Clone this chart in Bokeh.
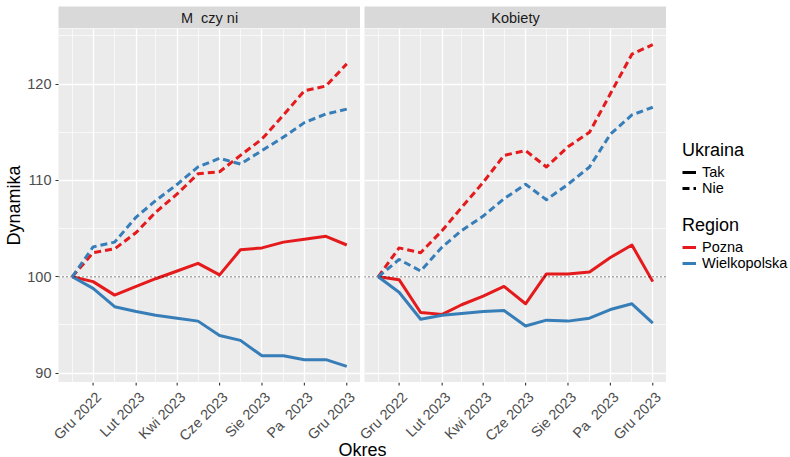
from math import pi
import pandas as pd
from bokeh.plotting import figure
from bokeh.layouts import column, row
from bokeh.models import Range1d, FixedTicker, Span, Legend, LegendItem, ColumnDataSource
from bokeh.embed import file_html
from bokeh.resources import INLINE
from bokeh.core.properties import value

# ---------------- data ----------------
okres = ["2022-11-01", "2022-12-01", "2023-01-01", "2023-02-01", "2023-03-01",
         "2023-04-01", "2023-05-01", "2023-06-01", "2023-07-01", "2023-08-01",
         "2023-09-01", "2023-10-01", "2023-11-01", "2023-12-01"]
tick_dates = ["2022-12-01", "2023-02-01", "2023-04-01", "2023-06-01",
              "2023-08-01", "2023-10-01", "2023-12-01"]
tick_labels = ["Gru 2022", "Lut 2023", "Kwi 2023", "Cze 2023",
               "Sie 2023", "Pa\u00a0 2023", "Gru 2023"]
minor_dates = ["2022-11-01", "2023-01-01", "2023-03-01", "2023-05-01",
               "2023-07-01", "2023-09-01", "2023-11-01"]
y_ticks = [90, 100, 110, 120]
y_minor = [95, 105, 115, 125]
panels = ["M\u00a0\u00a0czy\u00a0ni", "Kobiety"]
regions = ["Pozna", "Wielkopolska"]
ukraina = ["Tak", "Nie"]
x_title = "Okres"
y_title = "Dynamika"

# Mężczyźni
m_poznan_tak = [100, 99.5, 98.1, 99.0, 99.8, 100.6, 101.4, 100.2, 102.8, 103.0, 103.6, 103.9, 104.2, 103.3]
m_wlkp_tak = [100, 98.8, 96.9, 96.4, 96.0, 95.7, 95.4, 93.9, 93.4, 91.8, 91.8, 91.4, 91.4, 90.7]
m_poznan_nie = [100, 102.5, 102.9, 104.6, 106.7, 108.6, 110.7, 110.9, 112.6, 114.3, 116.8, 119.3, 119.8, 122.1]
m_wlkp_nie = [100, 103.1, 103.6, 106.2, 107.9, 109.6, 111.4, 112.3, 111.7, 113.1, 114.5, 116.0, 116.9, 117.4]
# Kobiety
k_poznan_tak = [100, 99.7, 96.3, 96.1, 97.1, 98.0, 99.0, 97.2, 100.3, 100.3, 100.5, 102.0, 103.3, 99.5]
k_wlkp_tak = [100, 98.4, 95.6, 96.0, 96.2, 96.4, 96.5, 94.9, 95.5, 95.4, 95.7, 96.6, 97.2, 95.2]
k_poznan_nie = [100, 103.0, 102.5, 104.8, 107.2, 109.8, 112.6, 113.1, 111.4, 113.5, 115.0, 119.0, 123.1, 124.1]
k_wlkp_nie = [100, 101.8, 100.6, 103.1, 104.8, 106.3, 108.1, 109.6, 108.0, 109.6, 111.4, 114.8, 116.8, 117.6]

series = {
    0: [(0, 0, m_poznan_tak), (1, 0, m_wlkp_tak), (0, 1, m_poznan_nie), (1, 1, m_wlkp_nie)],
    1: [(0, 0, k_poznan_tak), (1, 0, k_wlkp_tak), (0, 1, k_poznan_nie), (1, 1, k_wlkp_nie)],
}

# ---------------- style ----------------
FONT = "Liberation Sans"
FONT_V = value(FONT)
colors = ["#E41A1C", "#377EB8"]
dashes = ["solid", "7 4"]
PANEL_BG = "#EBEBEB"
STRIP_BG = "#D9D9D9"
FRAME_W = 302
FRAME_H = 354
LEFT = 58
GAP = 4
STRIP_TOP = 6
STRIP_H = 22
BOTTOM_H = 74
LEG_W = 124

dates = pd.to_datetime(okres)
to_ms = lambda s: int(pd.Timestamp(s).value // 10**6)
ms = [to_ms(d) for d in okres]
span = ms[-1] - ms[0]
x0, x1 = ms[0] - 0.05 * span, ms[-1] + 0.05 * span
tick_ms = [to_ms(d) for d in tick_dates]
minor_ms = [to_ms(d) for d in minor_dates]

all_vals = [v for lst in series.values() for (_, _, s) in lst for v in s]
lo, hi = min(all_vals), max(all_vals)
yr = Range1d(lo - 0.05 * (hi - lo), hi + 0.05 * (hi - lo))


def strip(i):
    p = figure(frame_width=FRAME_W, frame_height=STRIP_H, x_range=Range1d(0, 1), y_range=Range1d(0, 1),
               x_axis_location=None, y_axis_location=None, output_backend="svg",
               toolbar_location=None, min_border_left=LEFT if i == 0 else GAP,
               min_border_right=0, min_border_top=STRIP_TOP, min_border_bottom=0,
               background_fill_color=STRIP_BG, border_fill_color="white", outline_line_color=None)
    p.grid.visible = False
    p.text(x=[0.5], y=[0.5], text=[panels[i]], text_align="center", text_baseline="middle",
           text_font=FONT_V, text_font_size="14.5px", text_color="#1A1A1A")
    return p


def panel(i):
    p = figure(frame_width=FRAME_W, frame_height=FRAME_H, x_axis_type="datetime",
               x_range=Range1d(x0, x1), y_range=yr,
               x_axis_location=None,
               y_axis_location="left" if i == 0 else None,
               output_backend="svg", toolbar_location=None,
               min_border_left=LEFT if i == 0 else GAP, min_border_right=0,
               min_border_top=0, min_border_bottom=0,
               background_fill_color=PANEL_BG, border_fill_color="white", outline_line_color=None)
    xt = FixedTicker(ticks=tick_ms, minor_ticks=minor_ms)
    yt = FixedTicker(ticks=y_ticks, minor_ticks=y_minor)
    p.xgrid.ticker = xt
    p.ygrid.ticker = yt
    for g in (p.xgrid, p.ygrid):
        g.grid_line_color = "white"
        g.grid_line_width = 1.3
        g.minor_grid_line_color = "white"
        g.minor_grid_line_width = 0.65
    if i == 0:
        ay = p.yaxis[0]
        ay.ticker = yt
        ay.axis_line_color = None
        ay.major_tick_line_color = "#333333"
        ay.major_tick_in = 0
        ay.major_tick_out = 3
        ay.minor_tick_line_color = None
        ay.major_label_text_font = FONT
        ay.major_label_text_font_size = "14.5px"
        ay.major_label_text_color = "#4D4D4D"
        ay.major_label_standoff = 3
        ay.axis_label = y_title
        ay.axis_label_text_font = FONT
        ay.axis_label_text_font_size = "18px"
        ay.axis_label_text_font_style = "normal"
        ay.axis_label_text_color = "black"
        ay.axis_label_standoff = 0
    for (r, u, vals) in series[i]:
        src = ColumnDataSource(dict(x=dates, y=vals))
        p.line("x", "y", source=src, line_color=colors[r], line_width=3,
               line_dash=dashes[u], line_join="round")
    p.add_layout(Span(location=100, dimension="width", line_color="black",
                      line_width=1, line_dash="1 3"))
    return p


def bottom_fig():
    # one strip under both panels: ticks + rotated labels on each panel's own date scale,
    # then the shared x-axis title centred under the two panels
    total = LEFT + 2 * FRAME_W + GAP
    k = (x1 - x0) / FRAME_W
    rng_l = Range1d(x0 - LEFT * k, x0 + (total - LEFT) * k)
    rng_r = Range1d(x0 - (LEFT + FRAME_W + GAP) * k, x1)
    p = figure(width=total, height=BOTTOM_H, x_range=Range1d(0, total), y_range=Range1d(-BOTTOM_H, 0),
               extra_x_ranges={"L": rng_l, "R": rng_r},
               x_axis_location=None, y_axis_location=None, output_backend="svg",
               toolbar_location=None, min_border=0, outline_line_color=None,
               background_fill_color="white", border_fill_color="white")
    p.grid.visible = False
    tx = pd.to_datetime(tick_dates)
    src = ColumnDataSource(dict(x=tx, lab=tick_labels))
    for name in ("L", "R"):
        p.segment(x0="x", x1="x", y0=0, y1=-3, source=src, x_range_name=name,
                  line_color="#333333", line_width=1.1)
        p.text(x="x", y=-6.5, text="lab", source=src, x_range_name=name, angle=pi / 4,
               text_align="right", text_baseline="top", text_font=FONT_V,
               text_font_size="14.4px", text_color="#4D4D4D")
    p.text(x=[(LEFT + total) / 2], y=[-67], text=[x_title], text_align="center",
           text_baseline="middle", text_font=FONT_V, text_font_size="18px", text_color="black")
    return p


def legend_fig():
    h = FRAME_H
    p = figure(width=LEG_W, height=h, x_range=Range1d(0, 1), y_range=Range1d(0, 1),
               x_axis_location=None, y_axis_location=None, output_backend="svg",
               toolbar_location=None, min_border=0, outline_line_color=None,
               background_fill_color="white", border_fill_color="white")
    p.grid.visible = False
    items_u = []
    for u, lab in enumerate(ukraina):
        rr = p.line(x=[-5, -4], y=[-5, -4], line_color="black", line_width=3, line_dash=dashes[u])
        items_u.append(LegendItem(label=lab, renderers=[rr]))
    items_r = []
    for r, lab in enumerate(regions):
        rr = p.line(x=[-5, -4], y=[-5, -4], line_color=colors[r], line_width=3)
        items_r.append(LegendItem(label=lab, renderers=[rr]))
    for items, title, loc in ((items_u, "Ukraina", (16, 186)), (items_r, "Region", (16, 111))):
        lg = Legend(items=items, title=title, location=loc)
        lg.title_text_font = FONT
        lg.title_text_font_size = "18px"
        lg.title_text_font_style = "normal"
        lg.title_text_color = "black"
        lg.label_text_font = FONT
        lg.label_text_font_size = "14.5px"
        lg.label_text_color = "black"
        lg.border_line_color = None
        lg.background_fill_alpha = 0
        lg.padding = 0
        lg.margin = 0
        lg.spacing = 0
        lg.glyph_width = 14
        lg.glyph_height = 16
        lg.label_height = 16
        lg.label_standoff = 6
        lg.title_standoff = 3
        p.add_layout(lg)
    return p


layout = column(
    row(strip(0), strip(1)),
    row(panel(0), panel(1), legend_fig()),
    bottom_fig(),
)

open("out.html", "w").write(file_html(layout, INLINE))
